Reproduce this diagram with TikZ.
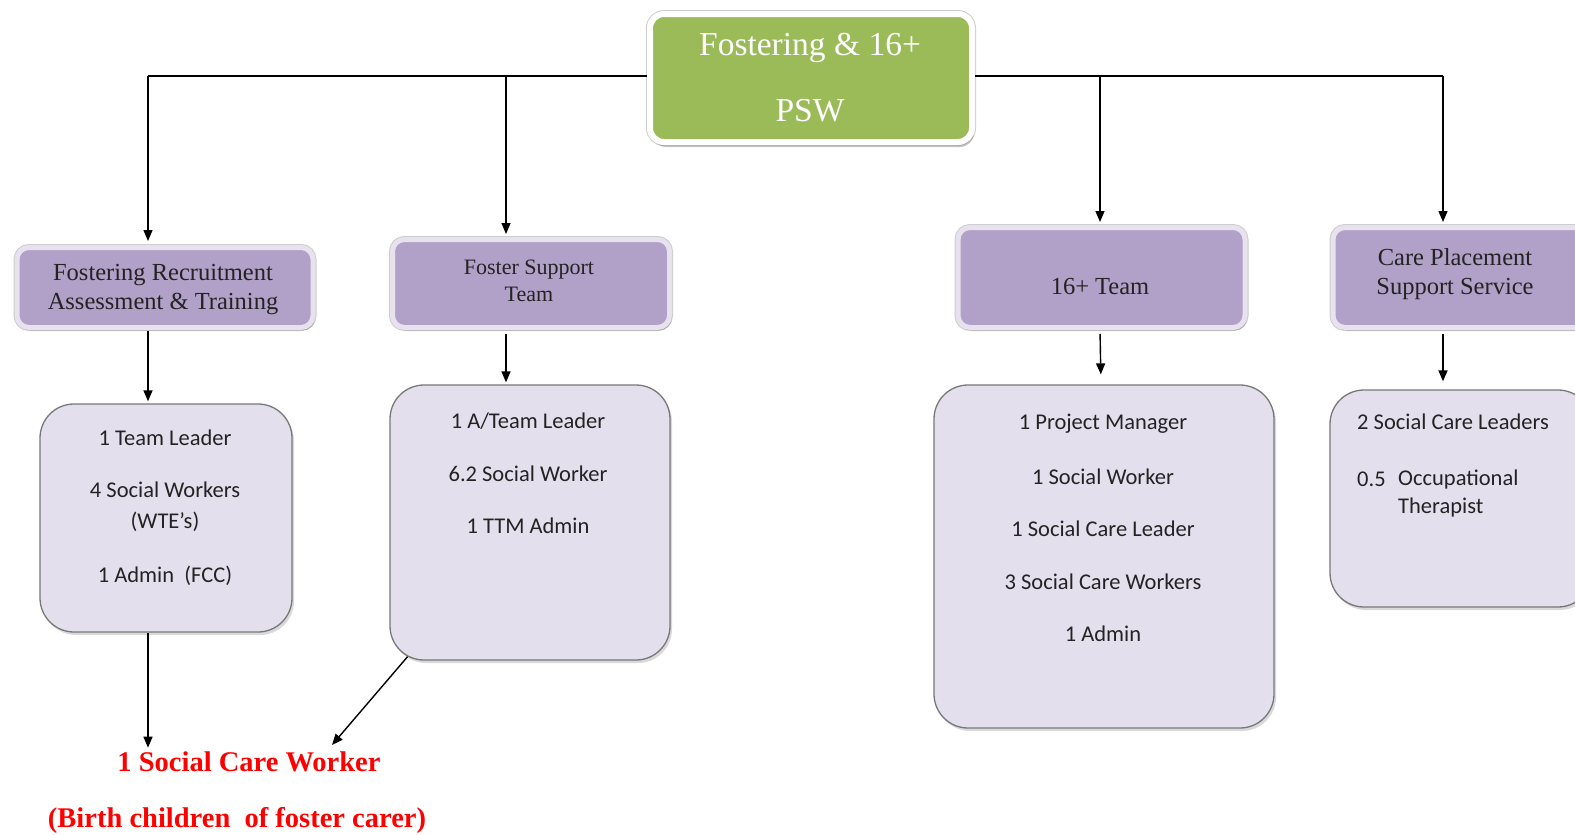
\documentclass[tikz,border=0pt]{standalone}
\usepackage{fontspec}
\setmainfont{Liberation Serif}
\newfontfamily\calfont{Carlito}
\usetikzlibrary{shadows,arrows.meta}
\definecolor{grn}{RGB}{155,187,89}
\definecolor{purp}{RGB}{177,160,199}
\definecolor{purpedge}{RGB}{232,226,239}
\definecolor{stafffill}{RGB}{228,223,236}
\definecolor{staffedge}{RGB}{120,120,120}
\definecolor{txtdark}{RGB}{35,35,35}
\definecolor{redtxt}{RGB}{255,0,0}
\definecolor{rim}{RGB}{205,205,205}
\tikzset{
  topbox/.style={rectangle, rounded corners=14pt, fill=grn, draw=white, line width=6pt,
    preaction={draw=rim, line width=8pt},
    drop shadow={shadow xshift=2pt, shadow yshift=-5pt, opacity=0.45, fill=gray}},
  teambox/.style={rectangle, rounded corners=12pt, fill=purp, draw=purpedge, line width=5pt,
    preaction={draw=rim, line width=7pt},
    drop shadow={shadow xshift=2pt, shadow yshift=-3pt, opacity=0.45, fill=gray}},
  staffbox/.style={rectangle, rounded corners=34pt, fill=stafffill, draw=staffedge, line width=1.3pt,
    drop shadow={shadow xshift=2pt, shadow yshift=-3pt, opacity=0.3, fill=gray}},
  toptext/.style={text=white, font=\fontsize{33.5}{38}\selectfont, inner sep=0pt},
  headtext/.style={text=txtdark, align=center, inner sep=0pt, font=\fontsize{24.5}{29}\selectfont},
  headsmall/.style={text=txtdark, align=center, inner sep=0pt, font=\fontsize{22}{27}\selectfont},
  stafftext/.style={text=txtdark, align=center, inner sep=0pt, font=\calfont\fontsize{22.5}{31}\selectfont},
  redtext/.style={text=redtxt, inner sep=0pt, font=\bfseries\fontsize{28.5}{32}\selectfont},
  conn/.style={draw=black, line width=1.4pt},
  arr/.style={conn, -{Triangle[length=11pt,width=9pt]}},
}
\begin{document}
\begin{tikzpicture}[x=1pt,y=-1pt]
\useasboundingbox (0,0) rectangle (1575,835);

% top
\node[topbox, minimum width=322pt, minimum height=128pt] (top) at (811,78) {};
\node[toptext] (topa) at (810,48) {Fostering \& 16+};
\node[toptext] (topb) at (810,111) {PSW};

% team boxes
\node[teambox, minimum width=296pt, minimum height=80pt] (b1) at (165,287.5) {};
\node[headtext] (t1) at (163,290) {Fostering Recruitment\\Assessment \& Training};
\node[teambox, minimum width=277pt, minimum height=88pt] (b2) at (531,283.5) {};
\node[headsmall] (t2) at (529,281) {Foster Support\\Team};
\node[teambox, minimum width=287pt, minimum height=100pt] (b3) at (1101.5,277.5) {};
\node[headtext] (t3) at (1100,287) {16+ Team};
\node[teambox, minimum width=256pt, minimum height=100pt] (b4) at (1461,277.5) {};
\node[headtext] (t4) at (1455,274) {Care Placement\\Support Service};

% staff boxes
\node[staffbox, minimum width=252pt, minimum height=228pt] (s1) at (166,518) {};
\node[stafftext] (s1a) at (165,438) {1 Team Leader};
\node[stafftext] (s1b) at (165,507) {4 Social Workers\\(WTE’s)};
\node[stafftext] (s1c) at (165,576) {1 Admin\ \ (FCC)};

\node[staffbox, minimum width=280pt, minimum height=275pt] (s2) at (530,522.5) {};
\node[stafftext] (s2a) at (528,421) {1 A/Team Leader};
\node[stafftext] (s2b) at (528,474) {6.2 Social Worker};
\node[stafftext] (s2c) at (528,526) {1 TTM Admin};

\node[staffbox, minimum width=340pt, minimum height=343pt] (s3) at (1104,556.5) {};
\node[stafftext] (s3a) at (1103,424) {1 Project Manager};
\node[stafftext] (s3b) at (1103,477) {1 Social Worker};
\node[stafftext] (s3c) at (1103,529) {1 Social Care Leader};
\node[stafftext] (s3d) at (1103,582) {3 Social Care Workers};
\node[stafftext] (s3e) at (1103,634) {1 Admin};

\node[staffbox, minimum width=262pt, minimum height=217pt] (s4) at (1461,498.5) {};
\node[stafftext, anchor=west] (s4a) at (1357,422) {2 Social Care Leaders};
\node[stafftext, anchor=west] (s4b) at (1357,479) {0.5};
\node[stafftext, anchor=west, align=left, font=\calfont\fontsize{22.5}{28}\selectfont] (s4c) at (1398,493) {Occupational\\Therapist};

% red text
\node[redtext] (rsw) at (249,762) {1 Social Care Worker};
\node[redtext] (rbc) at (237,820) {(Birth\ children\ \ of\ foster\ carer)};

% junctions
\coordinate (jL) at (148,76);
\coordinate (j2) at (506,76);
\coordinate (j3) at (1100,76);
\coordinate (jR) at (1443,76);
\coordinate (e2) at (332,745);

\draw[conn] (top.west |- jL) -- (jL);
\draw[conn] (top.east |- jR) -- (jR);
\draw[arr, shorten >=4pt] (jL) -- (jL |- b1.north);
\draw[arr, shorten >=3pt] (j2) -- (j2 |- b2.north);
\draw[arr, shorten >=3pt] (j3) -- (j3 |- b3.north);
\draw[arr, shorten >=3pt] (jR) -- (jR |- b4.north);

\draw[arr, shorten <=1pt, shorten >=2pt] (b1.south -| jL) -- (s1.north -| jL);
\draw[arr, shorten <=4pt, shorten >=2pt] (b2.south -| j2) -- (s2.north -| j2);
\draw[arr, shorten <=4pt, shorten >=10pt] (b3.south -| j3) -- ([xshift=1pt]s3.north -| j3);
\draw[arr, shorten <=4pt, shorten >=8pt] (b4.south -| jR) -- (s4.north -| jR);

\draw[arr, shorten >=4pt] (s1.south -| jL) -- (rsw.north -| jL);
\draw[arr] (s2.228) ++(2pt,4pt) -- (e2);
\end{tikzpicture}
\end{document}
